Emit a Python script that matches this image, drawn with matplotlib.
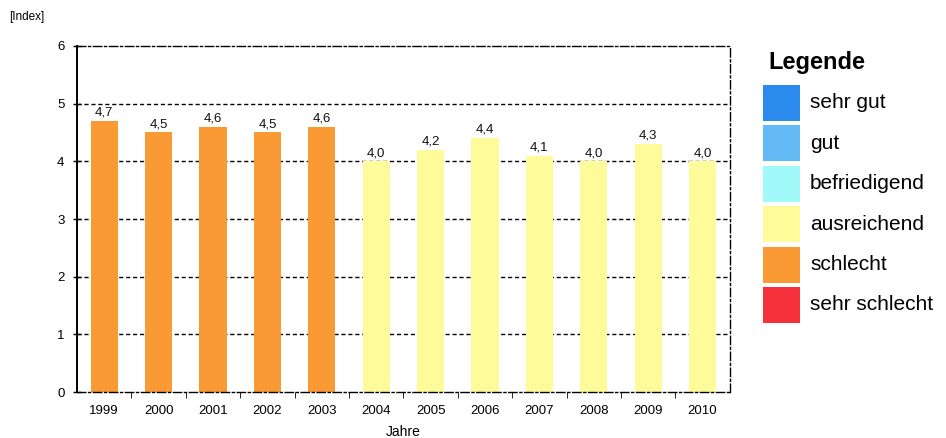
import matplotlib
matplotlib.use("Agg")
import matplotlib.pyplot as plt
from matplotlib.patches import Rectangle
import numpy as np

years = ["1999", "2000", "2001", "2002", "2003", "2004", "2005", "2006", "2007", "2008", "2009", "2010"]
index_values = [4.7, 4.5, 4.6, 4.5, 4.6, 4.0, 4.2, 4.4, 4.1, 4.0, 4.3, 4.0]
ratings = ["schlecht"] * 5 + ["ausreichend"] * 7

legend_labels = ["sehr gut", "gut", "befriedigend", "ausreichend", "schlecht", "sehr schlecht"]
legend_colors = ["#2B8BEC", "#64BAF4", "#A2F9F9", "#FEFB9A", "#F99A35", "#F4303A"]
rating_color = dict(zip(legend_labels, legend_colors))

plt.rcParams["font.family"] = ["Liberation Sans", "DejaVu Sans"]

W, H = 946, 438
fig = plt.figure(figsize=(W / 100, H / 100), dpi=100)
ax = fig.add_axes([0.0814, 0.105, 0.69, 0.79])

x = np.arange(len(years))
ax.bar(x, index_values, width=0.5, color=[rating_color[r] for r in ratings], zorder=2)

for xi, v in zip(x, index_values):
    ax.text(xi, v + 0.04, f"{v:.1f}".replace(".", ","), ha="center", va="bottom",
            fontsize=9.5, color="#111111", zorder=3)

ax.set_xlim(-0.5, len(years) - 0.5)
ax.set_ylim(0, 6)
ax.set_yticks(range(0, 7))
ax.set_xticks(x)
ax.set_xticklabels(years, fontsize=9.5)
ax.tick_params(axis="y", labelsize=9.5, direction="inout", length=6, width=1, pad=6)
ax.tick_params(axis="x", length=0, pad=9)
ax.set_xticks(np.arange(0.5, len(years) - 0.5, 1), minor=True)
ax.tick_params(axis="x", which="minor", direction="out", length=4)

# dashed grid lines between 1 and 5
for y in range(1, 6):
    ax.axhline(y, color="black", linestyle=(0, (3, 2)), linewidth=1, zorder=1)

ax.spines["left"].set_linewidth(1.4)
for side in ("top", "right", "bottom"):
    ax.spines[side].set_linestyle((0, (6, 2, 1.5, 2)))
    ax.spines[side].set_linewidth(1)

ax.set_xlabel("Jahre", fontsize=10, labelpad=6)
fig.text(0.01, 0.962, "[Index]", fontsize=8.5, ha="left", va="center")

# colour key drawn in its own pixel-scaled axes
lx0, lx1, ly0, ly1 = 750, 946, 40, 330
lax = fig.add_axes([lx0 / W, 1 - ly1 / H, (lx1 - lx0) / W, (ly1 - ly0) / H])
lax.set_xlim(lx0, lx1)
lax.set_ylim(ly1, ly0)
lax.axis("off")
lax.text(768, 62, "Legende", fontsize=17, fontweight="bold", ha="left", va="center")
row_step = 40.4
for i, (lab, col) in enumerate(zip(legend_labels, legend_colors)):
    yc = 103 + i * row_step
    lax.add_patch(Rectangle((763, yc - 18), 37, 36, facecolor=col, edgecolor="none"))
    lax.text(810, yc, lab, fontsize=15, ha="left", va="center")

fig.savefig("out.png", dpi=100)
